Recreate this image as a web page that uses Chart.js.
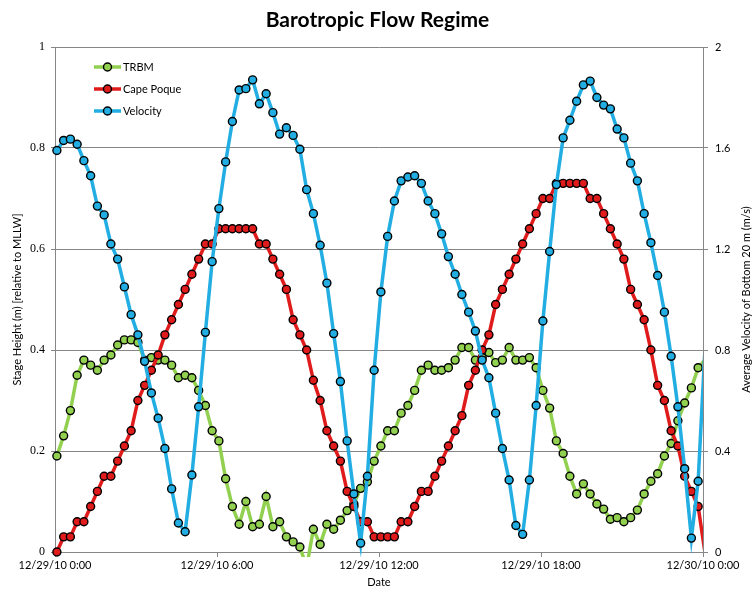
<!DOCTYPE html>
<html>
<head>
<meta charset="utf-8">
<title>Barotropic Flow Regime</title>
<script src="https://cdn.jsdelivr.net/npm/chart.js@4.4.1/dist/chart.umd.min.js"></script>
<style>
  html, body { margin: 0; padding: 0; background: #fff; }
  #wrap { width: 755px; height: 592px; }
</style>
</head>
<body>
<div id="wrap"><canvas id="flowChart" width="755" height="592"></canvas></div>
<script>
/* Barotropic flow regime, 12/29/10.
   Two tide gauges (stage, left axis) + near-bottom velocity (right axis).
   One reading every 15 min, first one a few minutes after midnight. */

const xTickHours = [0, 6, 12, 18, 24];
const xTickLabels = ['12/29/10 0:00', '12/29/10 6:00', '12/29/10 12:00', '12/29/10 18:00', '12/30/10 0:00'];

const firstReadingHour = 0.07;
const readingStepHours = 0.25;

// stage height (m, relative to MLLW)
const trbm = [
  0.19, 0.23, 0.28, 0.35, 0.38, 0.37, 0.36, 0.38, 0.39, 0.41, 0.42, 0.42, 0.415,
  0.38, 0.385, 0.38, 0.38, 0.37, 0.345, 0.35, 0.345, 0.32, 0.29, 0.24, 0.22,
  0.145, 0.09, 0.055, 0.10, 0.05, 0.055, 0.11, 0.05, 0.06, 0.03, 0.02, 0.01,
  -0.03, 0.045, 0.015, 0.055, 0.045, 0.063, 0.082, 0.095, 0.126, 0.139, 0.18,
  0.21, 0.24, 0.24, 0.275, 0.29, 0.32, 0.36, 0.37, 0.36, 0.36, 0.365, 0.38,
  0.405, 0.405, 0.38, 0.385, 0.395, 0.375, 0.38, 0.405, 0.38, 0.38, 0.385,
  0.365, 0.32, 0.285, 0.22, 0.195, 0.15, 0.115, 0.135, 0.115, 0.095, 0.085,
  0.065, 0.068, 0.06, 0.068, 0.083, 0.115, 0.14, 0.155, 0.19, 0.215, 0.26,
  0.295, 0.325, 0.365, 0.38
];

const capePoque = [
  0.00, 0.03, 0.03, 0.06, 0.06, 0.09, 0.12, 0.15, 0.15, 0.18, 0.21, 0.24,
  0.30, 0.33, 0.36, 0.39, 0.43, 0.46, 0.49, 0.52, 0.55, 0.58, 0.61, 0.61,
  0.64, 0.64, 0.64, 0.64, 0.64, 0.64, 0.61, 0.61, 0.58, 0.55, 0.52, 0.46,
  0.43, 0.40, 0.34, 0.30, 0.24, 0.21, 0.18, 0.12, 0.09, 0.06, 0.06, 0.03,
  0.03, 0.03, 0.03, 0.06, 0.06, 0.09, 0.12, 0.12, 0.15, 0.18, 0.21, 0.24,
  0.27, 0.33, 0.36, 0.40, 0.43, 0.49, 0.52, 0.55, 0.58, 0.61, 0.64, 0.67,
  0.70, 0.70, 0.73, 0.73, 0.73, 0.73, 0.73, 0.70, 0.70, 0.67, 0.64, 0.61,
  0.58, 0.52, 0.49, 0.46, 0.40, 0.33, 0.30, 0.24, 0.21, 0.15, 0.12, 0.09,
  0.00
];

// average velocity of bottom 20 m (m/s)
const velocity = [
  1.59, 1.63, 1.635, 1.615, 1.55, 1.49, 1.37, 1.335, 1.22, 1.16, 1.05, 0.94,
  0.86, 0.755, 0.63, 0.53, 0.41, 0.25, 0.115, 0.08, 0.305, 0.575, 0.87, 1.15,
  1.36, 1.545, 1.705, 1.83, 1.835, 1.87, 1.775, 1.815, 1.74, 1.655, 1.68, 1.65,
  1.595, 1.435, 1.34, 1.215, 1.065, 0.865, 0.675, 0.44, 0.23, 0.035, 0.30, 0.72,
  1.03, 1.25, 1.39, 1.47, 1.485, 1.49, 1.46, 1.39, 1.34, 1.26, 1.17, 1.10,
  1.02, 0.95, 0.875, 0.76, 0.69, 0.55, 0.41, 0.285, 0.105, 0.07, 0.285, 0.58,
  0.915, 1.19, 1.455, 1.64, 1.71, 1.785, 1.85, 1.865, 1.80, 1.77, 1.755, 1.675,
  1.64, 1.54, 1.47, 1.34, 1.225, 1.095, 0.95, 0.775, 0.575, 0.33, 0.055, 0.28,
  0.80
];

const hours = velocity.map((_, i) => firstReadingHour + i * readingStepHours);
const toPoints = (vals) => vals.map((v, i) => ({ x: hours[i], y: v }));
const X_MAX = xTickHours[xTickHours.length - 1];

const SANS = 'Lato, "Open Sans", sans-serif';
const GRID = '#868686';

// Excel prints 1 / 0.8 / 0.6 ..., not 1.0
const plainNum = (v) => String(Number(v.toFixed(2)));

/** Excel-style legend: short line with the marker on it, drawn inside the plot. */
const lineLegend = {
  id: 'lineLegend',
  afterDatasetsDraw(chart, args, opts) {
    const ctx = chart.ctx;
    const area = chart.chartArea;
    opts.order.forEach((label, row) => {
      const ds = chart.data.datasets.find((d) => d.label === label);
      const x0 = area.left + opts.left;
      const y = area.top + opts.top + row * opts.rowGap;
      ctx.save();
      ctx.strokeStyle = ds.borderColor;
      ctx.lineWidth = ds.borderWidth;
      ctx.beginPath();
      ctx.moveTo(x0, y);
      ctx.lineTo(x0 + opts.lineLength, y);
      ctx.stroke();
      ctx.beginPath();
      ctx.arc(x0 + opts.lineLength / 2, y, opts.markerRadius, 0, Math.PI * 2);
      ctx.fillStyle = ds.pointBackgroundColor;
      ctx.fill();
      ctx.lineWidth = ds.pointBorderWidth;
      ctx.strokeStyle = ds.pointBorderColor;
      ctx.stroke();
      ctx.fillStyle = '#000';
      ctx.font = opts.font;
      ctx.textBaseline = 'middle';
      ctx.fillText(label, x0 + opts.lineLength + 2, y);
      ctx.restore();
    });
  }
};

/** Right axis title reads bottom-to-top like Excel (Chart.js would flip it). */
const rightTitle = {
  id: 'rightTitle',
  afterDraw(chart, args, opts) {
    const ctx = chart.ctx;
    const area = chart.chartArea;
    ctx.save();
    ctx.translate(chart.width - opts.inset, (area.top + area.bottom) / 2);
    ctx.rotate(-Math.PI / 2);
    ctx.font = opts.font;
    ctx.fillStyle = '#000';
    ctx.textAlign = 'center';
    ctx.textBaseline = 'middle';
    ctx.fillText(opts.text, 0, 0);
    ctx.restore();
  }
};

function series(label, vals, color, axis, order) {
  return {
    label: label,
    data: toPoints(vals),
    yAxisID: axis,
    order: order,
    borderColor: color,
    borderWidth: 3.5,
    // readings past the axis end are cut off, marker included
    pointRadius: (c) => (c.raw && c.raw.x > X_MAX ? 0 : 4),
    pointBackgroundColor: color,
    pointBorderColor: '#000',
    pointBorderWidth: 1.4,
    tension: 0,
    clip: { left: 6, top: 6, right: 0, bottom: 5 }
  };
}

new Chart(document.getElementById('flowChart'), {
  type: 'line',
  data: {
    datasets: [
      series('TRBM', trbm, '#92D050', 'y', 3),
      series('Cape Poque', capePoque, '#E01B1B', 'y', 2),
      series('Velocity', velocity, '#22AEE2', 'y2', 1)
    ]
  },
  plugins: [lineLegend, rightTitle],
  options: {
    responsive: false,
    animation: false,
    devicePixelRatio: 1,
    layout: { padding: 0 },
    plugins: {
      legend: { display: false },
      tooltip: { enabled: false },
      title: {
        display: true,
        text: 'Barotropic Flow Regime',
        color: '#000',
        font: { family: SANS, size: 21, weight: 'bold' },
        padding: { top: 8, bottom: 13.8 }
      },
      lineLegend: {
        order: ['TRBM', 'Cape Poque', 'Velocity'],
        left: 39, top: 20, rowGap: 22, lineLength: 27, markerRadius: 4,
        font: '11px ' + SANS
      },
      rightTitle: {
        text: 'Average Velocity of Bottom 20 m (m/s)',
        inset: 9,
        font: '11px ' + SANS
      }
    },
    scales: {
      x: {
        type: 'linear',
        min: 0,
        max: X_MAX,
        afterBuildTicks: (s) => { s.ticks = xTickHours.map((v) => ({ value: v })); },
        afterFit: (s) => { s.height = 40; },
        ticks: {
          autoSkip: false,
          maxRotation: 0,
          padding: 2,
          color: '#000',
          font: { family: SANS, size: 11 },
          callback: (v, i) => xTickLabels[i]
        },
        grid: { drawOnChartArea: false, drawTicks: true, tickLength: 5, color: GRID },
        border: { color: GRID },
        title: {
          display: true,
          text: 'Date',
          color: '#000',
          font: { family: SANS, size: 11 },
          padding: { top: 0, bottom: 2.5 }
        }
      },
      y: {
        position: 'left',
        min: 0,
        max: 1,
        afterFit: (s) => { s.width = 55; },
        ticks: {
          stepSize: 0.2,
          padding: 6,
          color: '#000',
          font: { family: '"Liberation Serif", serif', size: 12 },
          callback: plainNum
        },
        grid: { color: GRID, lineWidth: 1, tickLength: 4 },
        border: { color: GRID },
        title: {
          display: true,
          text: 'Stage Height (m) [relative to MLLW]',
          color: '#000',
          font: { family: SANS, size: 11 },
          padding: { top: 11, bottom: 0 }
        }
      },
      y2: {
        position: 'right',
        min: 0,
        max: 2,
        afterFit: (s) => { s.width = 52; },
        ticks: {
          stepSize: 0.4,
          padding: 7,
          color: '#000',
          font: { family: SANS, size: 11 },
          callback: plainNum
        },
        grid: { drawOnChartArea: false, tickLength: 5, color: GRID },
        border: { color: GRID }
      }
    }
  }
});
</script>
</body>
</html>
